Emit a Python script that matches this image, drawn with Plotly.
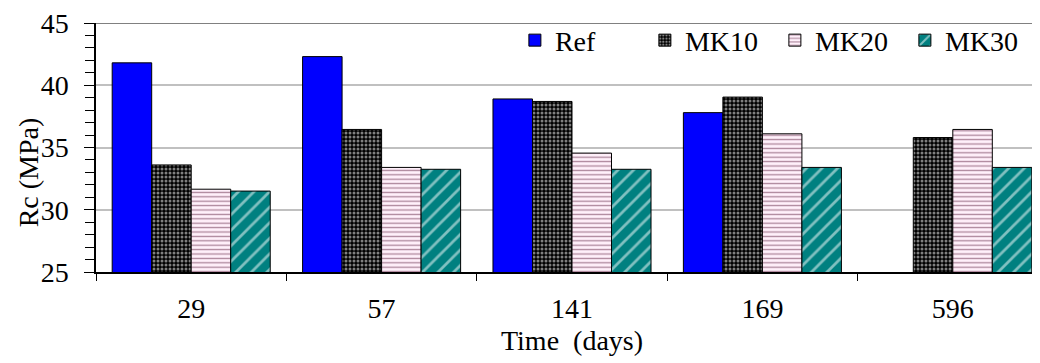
import plotly.graph_objects as go

categories = ["29", "57", "141", "169", "596"]
ref = [41.8, 42.3, 38.9, 37.8, None]
mk10 = [33.6, 36.45, 38.7, 39.05, 35.8]
mk20 = [31.65, 33.4, 34.55, 36.1, 36.45]
mk30 = [31.5, 33.25, 33.25, 33.4, 33.4]
series_names = ["Ref", "MK10", "MK20", "MK30"]

FONT = "Liberation Serif"
FS = 28
fig = go.Figure()
line = dict(color="black", width=1)
fig.add_trace(go.Bar(name=series_names[0], x=categories, y=ref,
                     marker=dict(color="#0000ff", line=line)))
fig.add_trace(go.Bar(name=series_names[1], x=categories, y=mk10,
                     marker=dict(color="black", line=line,
                                 pattern=dict(shape=".", fgcolor="white", bgcolor="black",
                                              size=4, solidity=0.45))))
fig.add_trace(go.Bar(name=series_names[2], x=categories, y=mk20,
                     marker=dict(color="#fff0fa", line=line,
                                 pattern=dict(shape="-", fgcolor="#5a1a3a", bgcolor="#fff0fa",
                                              size=4.4, solidity=0.3))))
fig.add_trace(go.Bar(name=series_names[3], x=categories, y=mk30,
                     marker=dict(color="#008080", line=line,
                                 pattern=dict(shape="/", fgcolor="white", bgcolor="#008080",
                                              size=11, solidity=0.25))))

fig.add_shape(type="line", xref="paper", yref="y", x0=0, x1=1, y0=45, y1=45,
              line=dict(color="#808080", width=2))

fig.add_annotation(text="Rc (MPa)", xref="paper", yref="paper", x=-0.0715, y=0.40,
                   xanchor="center", yanchor="middle", textangle=-90, showarrow=False,
                   borderpad=0,
                   font=dict(family=FONT, size=FS, color="black"))

fig.update_layout(
    width=1040, height=363,
    margin=dict(l=88, r=0, t=15, b=99),
    paper_bgcolor="white", plot_bgcolor="white",
    barmode="group", bargap=0.17, bargroupgap=0,
    font=dict(family=FONT, size=FS, color="black"),
    showlegend=True,
    legend=dict(orientation="h", x=0.44, xanchor="left", y=0.93, yanchor="middle",
                bgcolor="rgba(0,0,0,0)", font=dict(family=FONT, size=FS, color="black"),
                entrywidth=85, entrywidthmode="pixels", itemwidth=30),
    xaxis=dict(range=[-0.5, 4.5], showline=True, linecolor="black", linewidth=1.5,
               automargin=False,
               ticks="outside", ticklen=7, tickcolor="black", tickson="boundaries",
               ticklabelstandoff=11,
               title=dict(text="Time  (days)", standoff=7, font=dict(family=FONT, size=FS)),
               tickfont=dict(family=FONT, size=FS), showgrid=False),
    yaxis=dict(range=[25, 45], dtick=5, showline=True, linecolor="black", linewidth=1.5,
               automargin=False, ticklabeloverflow="allow",
               ticks="outside", ticklen=10, tickcolor="black",
               minor=dict(dtick=1, ticks="outside", ticklen=9, tickcolor="black", showgrid=False),
               showgrid=True, gridcolor="#c0c0c0", gridwidth=1.5,
               tickfont=dict(family=FONT, size=FS), ticklabelstandoff=10,
               zeroline=False),
)

fig.write_html("out.html")
